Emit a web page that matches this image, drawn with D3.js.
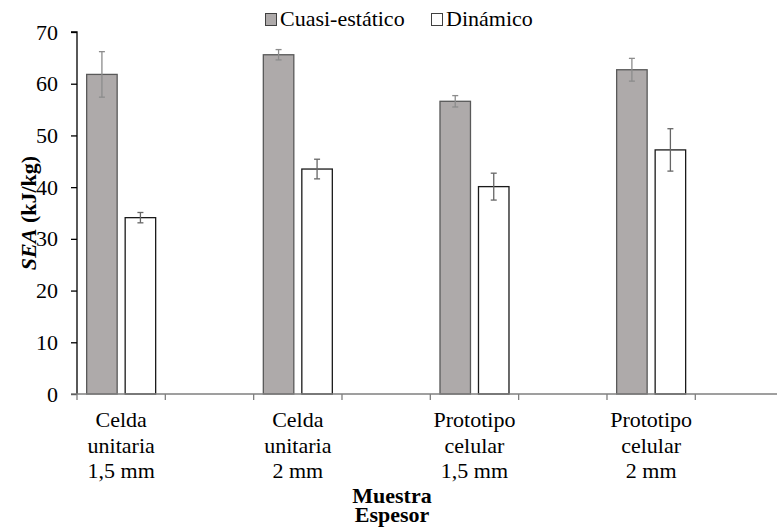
<!DOCTYPE html>
<html>
<head>
<meta charset="utf-8">
<script src="https://cdn.jsdelivr.net/npm/d3@7"></script>
<style>
  html, body { margin: 0; padding: 0; background: #fff; }
  svg { display: block; }
</style>
</head>
<body>
<svg id="chart" width="777" height="527"></svg>
<script>
// Sample groups; empty slots keep the gaps between the groups on the axis
const categories = [
  ["Celda", "unitaria", "1,5 mm"], null,
  ["Celda", "unitaria", "2 mm"], null,
  ["Prototipo", "celular", "1,5 mm"], null,
  ["Prototipo", "celular", "2 mm"], null
];
const seriesNames = ["Cuasi-estático", "Dinámico"];
const quasiStatic = [61.8, null, 65.6, null, 56.6, null, 62.7, null];
const quasiStaticErr = [4.4, null, 1.0, null, 1.1, null, 2.2, null];
const dynamic = [34.1, null, 43.5, null, 40.1, null, 47.2, null];
const dynamicErr = [1.0, null, 1.9, null, 2.6, null, 4.1, null];
const yTicks = [0, 10, 20, 30, 40, 50, 60, 70];

const FONT = '"Liberation Serif", "Times New Roman", serif';
const FS = 22;

const svg = d3.select("#chart");
const plotLeft = 77, plotBottom = 394, plotTop = 32;
const step = 88.33;

const x = d3.scaleBand()
  .domain(d3.range(categories.length))
  .range([plotLeft, plotLeft + step * categories.length])
  .padding(0);

const inner = d3.scaleBand()
  .domain([0, 1])
  .range([0, x.bandwidth()])
  .paddingInner(0.208)
  .paddingOuter(0.251);

const y = d3.scaleLinear().domain([0, 70]).range([plotBottom, plotTop]);

const fills = ["#aeaaaa", "#ffffff"];
const strokes = ["#595959", "#1a1a1a"];
const errColors = ["#8c8c8c", "#666666"];
const values = [quasiStatic, dynamic];
const errs = [quasiStaticErr, dynamicErr];

// Bars
values.forEach((vals, s) => {
  const data = vals.map((v, i) => ({ i, v, e: errs[s][i] })).filter(d => d.v != null);
  svg.append("g").selectAll("rect").data(data).join("rect")
    .attr("x", d => x(d.i) + inner(s))
    .attr("y", d => y(d.v))
    .attr("width", inner.bandwidth())
    .attr("height", d => y(0) - y(d.v))
    .attr("fill", fills[s])
    .attr("stroke", strokes[s])
    .attr("stroke-width", 1.3);

  // Error bars
  const eg = svg.append("g").attr("stroke", errColors[s]).attr("stroke-width", 1.3);
  data.forEach(d => {
    const cx = x(d.i) + inner(s) + inner.bandwidth() / 2;
    eg.append("line").attr("x1", cx).attr("x2", cx).attr("y1", y(d.v + d.e)).attr("y2", y(d.v - d.e));
    eg.append("line").attr("x1", cx - 3).attr("x2", cx + 3).attr("y1", y(d.v + d.e)).attr("y2", y(d.v + d.e));
    eg.append("line").attr("x1", cx - 3).attr("x2", cx + 3).attr("y1", y(d.v - d.e)).attr("y2", y(d.v - d.e));
  });
});

// Y axis
const yAxis = d3.axisLeft(y).tickValues(yTicks).tickSize(6).tickPadding(13);
const yg = svg.append("g").attr("transform", `translate(${plotLeft},0)`).call(yAxis);
yg.select(".domain").attr("stroke", "#000").attr("stroke-width", 1.3).attr("d", `M-6,${plotTop}H0V${plotBottom}`);
yg.selectAll(".tick line").attr("stroke", "#000").attr("stroke-width", 1.3);
yg.selectAll(".tick text").style("font-family", FONT).style("font-size", FS + "px").attr("fill", "#000");

// X axis: ticks between categories
const xg = svg.append("g");
xg.append("line").attr("x1", plotLeft - 6).attr("x2", x.range()[1]).attr("y1", plotBottom).attr("y2", plotBottom)
  .attr("stroke", "#7f7f7f").attr("stroke-width", 1.3);
const boundaries = d3.range(categories.length + 1).map(i => plotLeft + i * x.step());
xg.selectAll("line.tk").data(boundaries).join("line").attr("class", "tk")
  .attr("x1", d => d).attr("x2", d => d).attr("y1", plotBottom).attr("y2", plotBottom + 6)
  .attr("stroke", "#7f7f7f").attr("stroke-width", 1.3);

// Category labels
const labelData = categories.map((c, i) => ({ c, i })).filter(d => d.c);
const lbl = svg.append("g").selectAll("text").data(labelData).join("text")
  .attr("text-anchor", "middle").style("font-family", FONT).style("font-size", FS + "px").attr("fill", "#000")
  .attr("x", d => x(d.i) + x.bandwidth() / 2).attr("y", 427);
lbl.selectAll("tspan").data(d => d.c.map(t => ({ t, cx: x(d.i) + x.bandwidth() / 2 }))).join("tspan")
  .attr("x", t => t.cx).attr("dy", (t, j) => j === 0 ? 0 : 25.5).text(t => t.t);

// Axis titles
svg.append("text").attr("x", 392).attr("y", 503).attr("text-anchor", "middle")
  .style("font-family", FONT).style("font-size", FS + "px").attr("font-weight", "bold").text("Muestra");
svg.append("text").attr("x", 392).attr("y", 522).attr("text-anchor", "middle")
  .style("font-family", FONT).style("font-size", FS + "px").attr("font-weight", "bold").text("Espesor");

const yt = svg.append("text").attr("transform", "translate(36,213) rotate(-90)")
  .attr("text-anchor", "middle").style("font-family", FONT).style("font-size", FS + "px").attr("font-weight", "bold");
yt.append("tspan").attr("font-style", "italic").text("SEA");
yt.append("tspan").text(" (kJ/kg)");

// Legend
const legendPos = [265, 431];
seriesNames.forEach((name, s) => {
  const g = svg.append("g").attr("transform", `translate(${legendPos[s]},0)`);
  g.append("rect").attr("x", 0.5).attr("y", 13.5).attr("width", 11).attr("height", 12)
    .attr("fill", fills[s]).attr("stroke", "#404040").attr("stroke-width", 1);
  g.append("text").attr("x", 15).attr("y", 26).style("font-family", FONT).style("font-size", FS + "px")
    .attr("fill", "#000").text(name);
});
</script>
</body>
</html>
